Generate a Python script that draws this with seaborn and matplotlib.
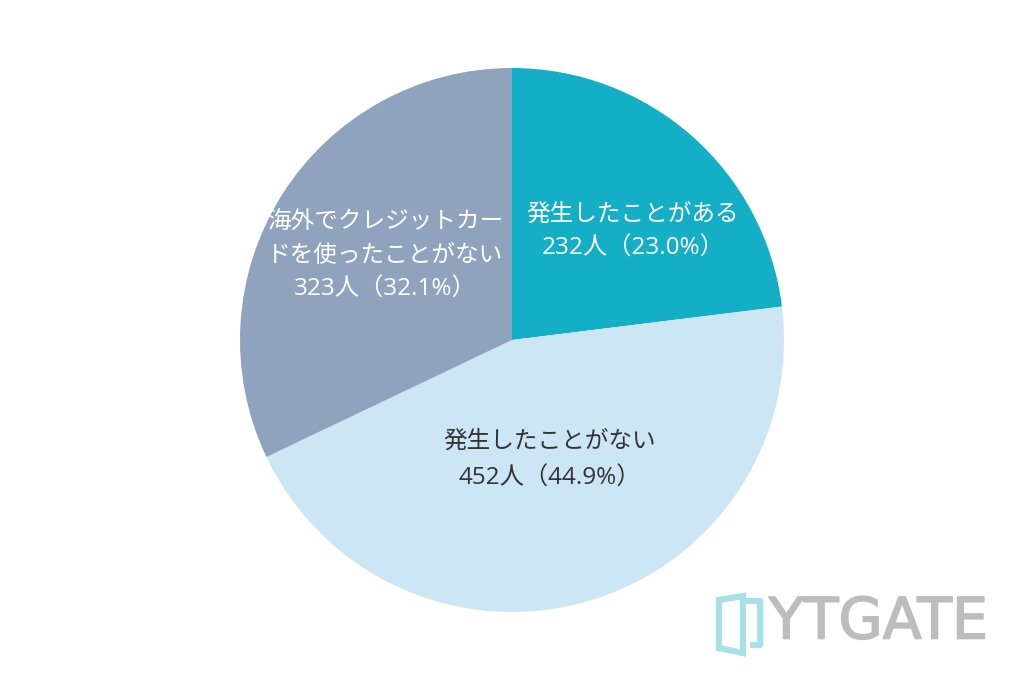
import matplotlib
matplotlib.use("Agg")
import matplotlib.pyplot as plt
import seaborn as sns
from matplotlib.patches import Polygon
import matplotlib.patheffects as pe

categories = [["発生したことがある"], ["発生したことがない"],
              ["海外でクレジットカー", "ドを使ったことがない"]]
counts = [232, 452, 323]
percents = [23.0, 44.9, 32.1]
colors = ["#14AFC7", "#CCE6F6", "#8FA3BE"]
text_colors = ["white", "#333333", "white"]

sns.set_theme(style="white")
plt.rcParams["font.family"] = ["Noto Sans CJK JP", "DejaVu Sans"]

fig = plt.figure(figsize=(10.24, 6.82), dpi=100)
ax = fig.add_axes([0, 0, 1, 1])

cx, cy, r = 512, 682 - 340, 272
wedges, _ = ax.pie(counts, colors=colors, startangle=90, counterclock=False,
                   center=(cx, cy), radius=r, frame=True,
                   wedgeprops=dict(linewidth=0))
ax.set_xlim(0, 1024)
ax.set_ylim(0, 682)
ax.set_aspect("equal")
ax.axis("off")

# label anchor: x centre and y of first line (pixels from top)
label_pos = [(633, 214), (550, 441), (385, 222)]
line_step = [35, 38, 34]
for lines, n, p, (x, y0), step, tc in zip(categories, counts, percents, label_pos,
                                           line_step, text_colors):
    for i, t in enumerate(lines):
        ax.text(x, 682 - (y0 + i * step), t, ha="center", va="center",
                fontsize=17, color=tc)
    ax.text(x, 682 - (y0 + len(lines) * step), f"{n}人（{p:.1f}%）",
            ha="center", va="center", fontsize=17.5, color=tc,
            family=["Open Sans", "Noto Sans CJK JP"])

# logo
ax.add_patch(Polygon([(719, 682 - 600), (743, 682 - 596), (743, 682 - 653), (719, 682 - 648)],
                     closed=True, fill=False, edgecolor="#A8E0E7", linewidth=4.5))
ax.plot([743, 760, 760, 750], [682 - 601, 682 - 601, 682 - 645, 682 - 645],
        color="#A8E0E7", linewidth=4.5, solid_capstyle="butt")
ax.text(769, 682 - 623, "YTGATE", ha="left", va="center", fontsize=41,
        color="#BDBDBD", family=["DejaVu Sans"],
        path_effects=[pe.withStroke(linewidth=1.2, foreground="#BDBDBD")])

fig.savefig("out.png", dpi=100, facecolor="white")
